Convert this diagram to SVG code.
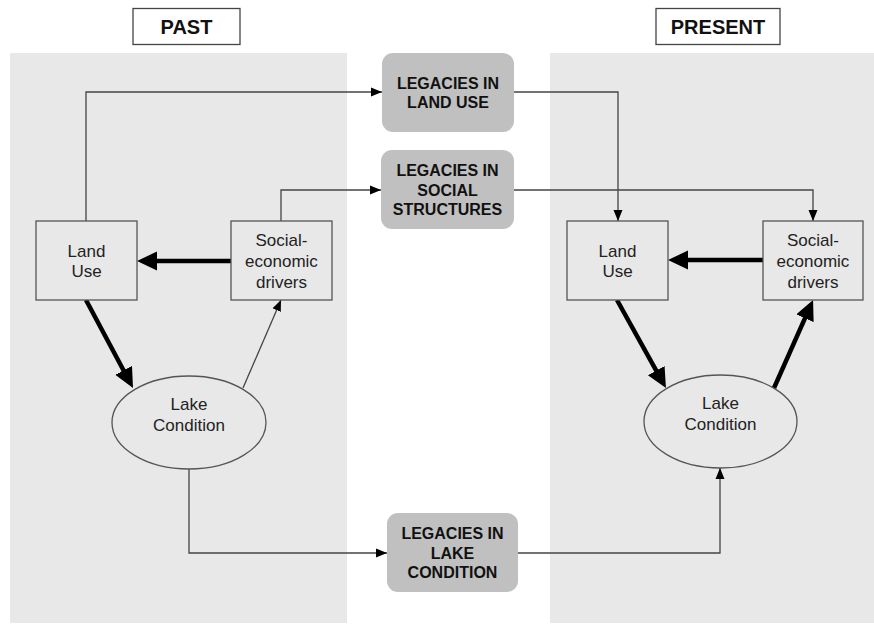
<svg xmlns="http://www.w3.org/2000/svg" width="874" height="625" viewBox="0 0 874 625">
<style>
.panel{fill:#e8e8e8}
.hdr{fill:#fff;stroke:#444;stroke-width:1.3}
.hdrt{font-family:"Liberation Sans",Arial,sans-serif;font-weight:bold;font-size:20px;fill:#111;text-anchor:middle}
.leg{fill:#c0c0c0}
.legt{font-family:"Liberation Sans",Arial,sans-serif;font-weight:bold;font-size:16px;fill:#111;text-anchor:middle}
.node{fill:#e8e8e8;stroke:#555;stroke-width:1.3}
.nodet{font-family:"Liberation Sans",Arial,sans-serif;font-size:17px;fill:#222;text-anchor:middle}
.thin{fill:none;stroke:#444;stroke-width:1.3;marker-end:url(#ah)}
.thick{fill:none;stroke:#000;stroke-width:4.5;marker-end:url(#ahb)}
</style>
<defs>
<marker id="ah" markerUnits="userSpaceOnUse" markerWidth="12" markerHeight="10" refX="11" refY="5" orient="auto">
<path d="M0,0.5 L11,5 L0,9.5 z" fill="#000"/>
</marker>
<marker id="ahb" markerUnits="userSpaceOnUse" markerWidth="22" markerHeight="20" refX="10" refY="9.5" orient="auto">
<path d="M0,0 L20,9.5 L0,19 z" fill="#000"/>
</marker>
</defs>
<rect class="panel" x="10" y="53" width="337" height="570"/>
<rect class="panel" x="550" y="53" width="324" height="570"/>
<g id="past">
<rect class="hdr" x="133" y="8.5" width="107" height="36"/>
<text class="hdrt" x="186.5" y="34">PAST</text>
</g>
<g id="present">
<rect class="hdr" x="656" y="8.5" width="124" height="36"/>
<text class="hdrt" x="718" y="34">PRESENT</text>
</g>
<g id="connectors">
<polyline class="thin" points="86,221 86,92 382,92"/>
<polyline class="thin" points="281,221 281,190 381,190"/>
<polyline class="thin" points="514,92 618,92 618,221"/>
<polyline class="thin" points="514,190 813,190 813,221"/>
<polyline class="thin" points="189,469 189,553 387,553"/>
<polyline class="thin" points="518,553 720,553 720,468"/>
<line class="thin" x1="243" y1="388" x2="281" y2="300"/>
<line class="thick" x1="231" y1="261" x2="147" y2="261"/>
<line class="thick" x1="86" y1="300" x2="128.3" y2="379.2"/>
<line class="thick" x1="763" y1="260" x2="678" y2="260"/>
<line class="thick" x1="617" y1="300" x2="661.1" y2="379.3"/>
<line class="thick" x1="774" y1="388" x2="809" y2="309.1"/>
</g>
<g id="leg-land-use">
<rect class="leg" x="382" y="53" width="132" height="79" rx="11"/>
<text class="legt" x="448" y="89">LEGACIES IN</text>
<text class="legt" x="448" y="108">LAND USE</text>
</g>
<g id="leg-social">
<rect class="leg" x="381" y="150" width="133" height="79" rx="11"/>
<text class="legt" x="447.5" y="176">LEGACIES IN</text>
<text class="legt" x="447.5" y="195.5">SOCIAL</text>
<text class="legt" x="447.5" y="215">STRUCTURES</text>
</g>
<g id="leg-lake">
<rect class="leg" x="387" y="513" width="131" height="79" rx="11"/>
<text class="legt" x="452.5" y="539">LEGACIES IN</text>
<text class="legt" x="452.5" y="559">LAKE</text>
<text class="legt" x="452.5" y="578">CONDITION</text>
</g>
<g id="past-land-use">
<rect class="node" x="36" y="221" width="101" height="79"/>
<text class="nodet" x="86.5" y="257">Land</text>
<text class="nodet" x="86.5" y="277">Use</text>
</g>
<g id="past-social">
<rect class="node" x="231" y="221" width="101" height="79"/>
<text class="nodet" x="281.5" y="246">Social-</text>
<text class="nodet" x="281.5" y="267">economic</text>
<text class="nodet" x="281.5" y="288">drivers</text>
</g>
<g id="past-lake">
<ellipse class="node" cx="189" cy="422.5" rx="77" ry="46.5"/>
<text class="nodet" x="189" y="410">Lake</text>
<text class="nodet" x="189" y="431">Condition</text>
</g>
<g id="present-land-use">
<rect class="node" x="567" y="221" width="101" height="79"/>
<text class="nodet" x="617.5" y="257">Land</text>
<text class="nodet" x="617.5" y="277">Use</text>
</g>
<g id="present-social">
<rect class="node" x="763" y="221" width="100" height="79"/>
<text class="nodet" x="813" y="246">Social-</text>
<text class="nodet" x="813" y="267">economic</text>
<text class="nodet" x="813" y="288">drivers</text>
</g>
<g id="present-lake">
<ellipse class="node" cx="720.5" cy="421.5" rx="76.5" ry="46.5"/>
<text class="nodet" x="720.5" y="409">Lake</text>
<text class="nodet" x="720.5" y="430">Condition</text>
</g>
</svg>
